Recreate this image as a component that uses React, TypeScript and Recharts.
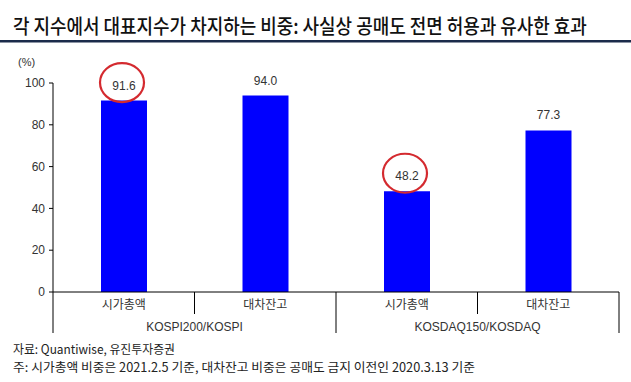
import React from 'react'
import { BarChart, Bar, XAxis, YAxis, LabelList } from 'recharts'

const categories = ['시가총액', '대차잔고', '시가총액', '대차잔고']
const groups = ['KOSPI200/KOSPI', 'KOSPI200/KOSPI', 'KOSDAQ150/KOSDAQ', 'KOSDAQ150/KOSDAQ']
const shares = [91.6, 94.0, 48.2, 77.3]
const circled = [true, false, true, false]
const yTicks = [0, 20, 40, 60, 80, 100]

const data = categories.map((c, i) => ({ id: i, name: c, group: groups[i], share: shares[i] }))

const FONT = '"Liberation Sans", Arial, sans-serif'
const KR = '"Noto Sans CJK KR", sans-serif'
const BAND = 141.5

function CategoryTick(props: any) {
  const { x, y, index } = props
  const half = BAND / 2
  const long = index === 1 || index === 3
  const showGroup = index === 0 || index === 2
  return (
    <g>
      <text x={x} y={y + 17} textAnchor="middle" fontSize={12} fill="#333" fontFamily={KR}>
        {categories[index]}
      </text>
      <line x1={x + half} x2={x + half} y1={y} y2={y + (long ? 41 : 22)} stroke="#000" />
      {index === 0 && <line x1={x - half} x2={x - half} y1={y} y2={y + 41} stroke="#000" />}
      {showGroup && (
        <text x={x + half} y={y + 39} textAnchor="middle" fontSize={12} fill="#333" fontFamily={FONT}>
          {groups[index]}
        </text>
      )}
    </g>
  )
}

function ValueLabel(props: any) {
  const { x, y, width, value, index } = props
  const cx = x + width / 2
  return (
    <g>
      {circled[index] && (
        <ellipse cx={cx - 2} cy={y - 18} rx={22} ry={19.5} fill="none" stroke="#d42a2f" strokeWidth={2.2} />
      )}
      <text x={cx} y={y - 11} textAnchor="middle" fontSize={12} fill="#333" fontFamily={FONT}>
        {Number(value).toFixed(1)}
      </text>
    </g>
  )
}

export default function App() {
  return (
    <div style={{ position: 'absolute', left: 0, top: 0, width: 631, height: 382, background: '#fff', overflow: 'hidden' }}>
      <BarChart width={631} height={382} data={data} margin={{ top: 83, right: 12, bottom: 45, left: 13 }}>
        <XAxis
          dataKey="id"
          tick={<CategoryTick />}
          tickLine={false}
          tickSize={0}
          tickMargin={0}
          height={45}
          axisLine={{ stroke: '#000' }}
          interval={0}
        />
        <YAxis
          domain={[0, 100]}
          ticks={yTicks}
          width={40}
          tickSize={4}
          tickMargin={4}
          axisLine={{ stroke: '#000' }}
          tickLine={{ stroke: '#000' }}
          tick={{ fontSize: 12, fill: '#333', fontFamily: FONT }}
        />
        <Bar dataKey="share" fill="#0000ff" barSize={46} isAnimationActive={false}>
          <LabelList dataKey="share" content={<ValueLabel />} />
        </Bar>
      </BarChart>
      <div
        style={{
          position: 'absolute',
          left: 13,
          top: 12,
          fontFamily: KR,
          fontSize: 20,
          fontWeight: 500,
          lineHeight: '28px',
          color: '#111',
          whiteSpace: 'nowrap',
          transform: 'scaleX(0.897)',
          transformOrigin: '0 0',
        }}
      >
        각 지수에서 대표지수가 차지하는 비중: 사실상 공매도 전면 허용과 유사한 효과
      </div>
      <svg width={631} height={382} style={{ position: 'absolute', left: 0, top: 0, pointerEvents: 'none' }}>
        <rect x={0} y={40} width={631} height={2.5} fill="#1b2b4b" />
        <text x={18} y={66} fontSize={11} fill="#333" fontFamily={FONT}>(%)</text>
        <text x={13} y={354} fontSize={12.5} fill="#222" fontFamily={KR} textLength={162} lengthAdjust="spacingAndGlyphs">
          자료: Quantiwise, 유진투자증권
        </text>
        <text x={13} y={372} fontSize={12.5} fill="#222" fontFamily={KR} textLength={462} lengthAdjust="spacingAndGlyphs">
          주: 시가총액 비중은 2021.2.5 기준, 대차잔고 비중은 공매도 금지 이전인 2020.3.13 기준
        </text>
      </svg>
    </div>
  )
}
